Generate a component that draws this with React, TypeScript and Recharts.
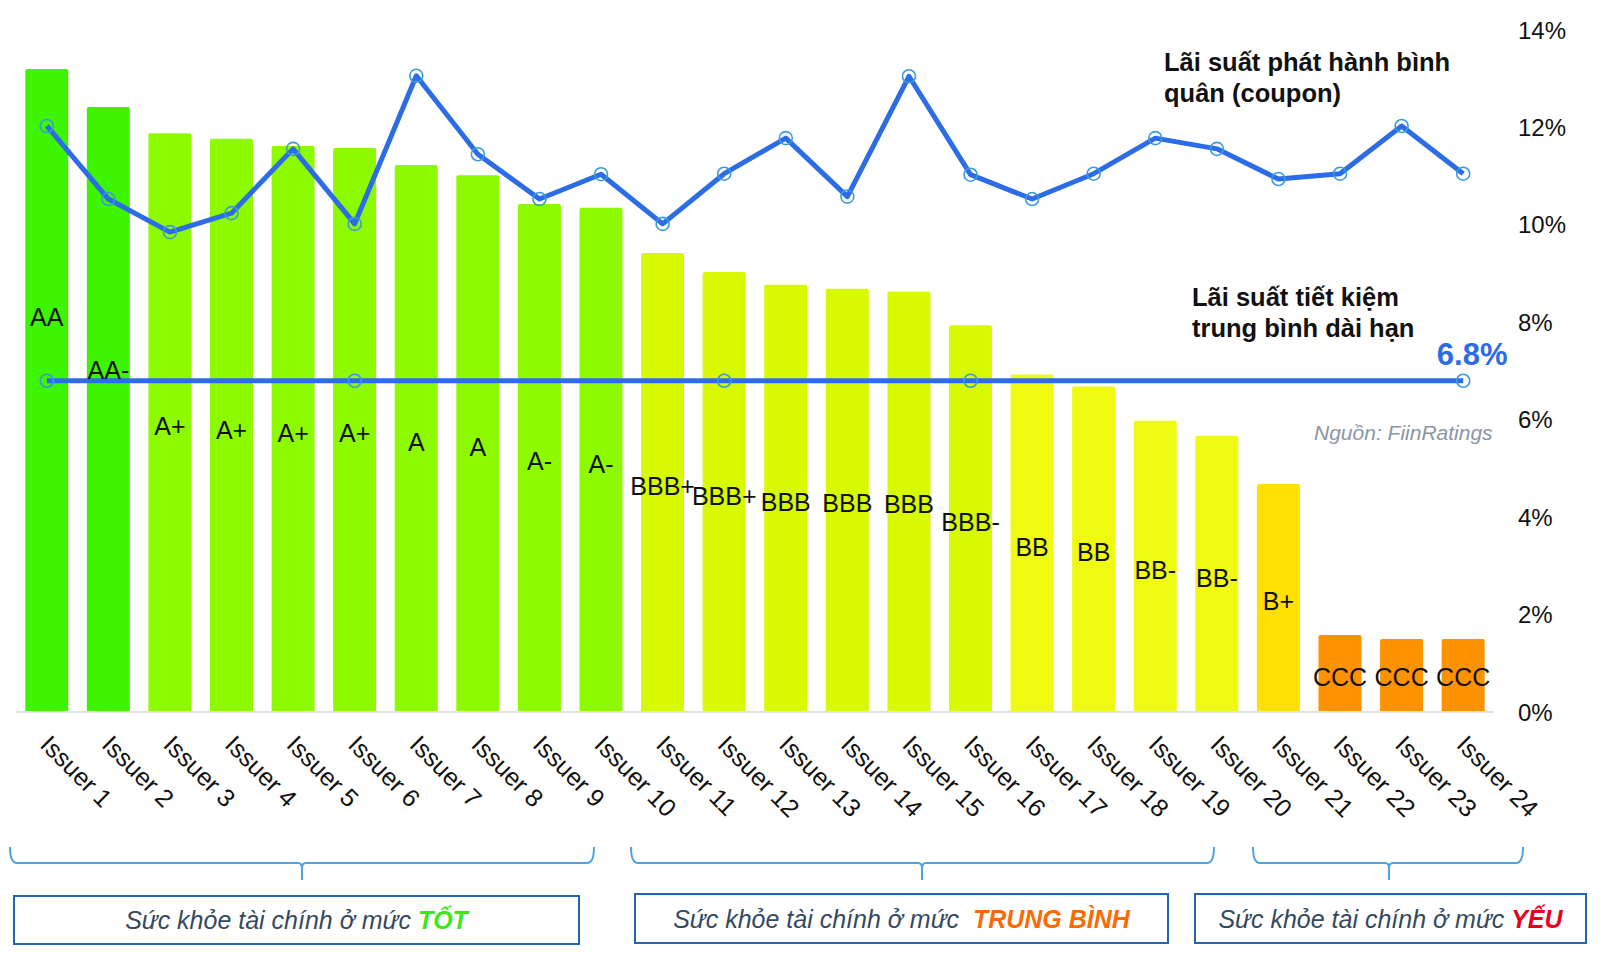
import React from 'react';
import { ComposedChart, Bar, Line, XAxis, YAxis, Cell, LabelList } from 'recharts';

const issuers = ['Issuer 1', 'Issuer 2', 'Issuer 3', 'Issuer 4', 'Issuer 5', 'Issuer 6', 'Issuer 7', 'Issuer 8', 'Issuer 9', 'Issuer 10', 'Issuer 11', 'Issuer 12', 'Issuer 13', 'Issuer 14', 'Issuer 15', 'Issuer 16', 'Issuer 17', 'Issuer 18', 'Issuer 19', 'Issuer 20', 'Issuer 21', 'Issuer 22', 'Issuer 23', 'Issuer 24'];
const ratings = ['AA', 'AA-', 'A+', 'A+', 'A+', 'A+', 'A', 'A', 'A-', 'A-', 'BBB+', 'BBB+', 'BBB', 'BBB', 'BBB', 'BBB-', 'BB', 'BB', 'BB-', 'BB-', 'B+', 'CCC', 'CCC', 'CCC'];
const barValues = [13.2, 12.42, 11.88, 11.77, 11.62, 11.58, 11.23, 11.02, 10.43, 10.35, 9.42, 9.03, 8.77, 8.69, 8.63, 7.94, 6.93, 6.68, 5.98, 5.67, 4.68, 1.58, 1.5, 1.5];
const coupon = [12.03, 10.53, 9.85, 10.24, 11.56, 10.02, 13.06, 11.45, 10.53, 11.04, 10.02, 11.05, 11.78, 10.58, 13.05, 11.03, 10.53, 11.05, 11.78, 11.56, 10.94, 11.05, 12.03, 11.05];
const SAVINGS_RATE = 6.8;
const ratingLabelAt = [8.11, 7.02, 5.87, 5.79, 5.73, 5.73, 5.54, 5.44, 5.15, 5.09, 4.64, 4.44, 4.31, 4.29, 4.27, 3.9, 3.39, 3.29, 2.92, 2.75, 2.28, 0.72, 0.72, 0.72];
const yTicks = [0, 2, 4, 6, 8, 10, 12, 14];
const savingsMarkerIdx = [0, 5, 11, 15, 23];

const ratingColor: Record<string, string> = {
  'AA': '#3DF500', 'AA-': '#3DF500',
  'A+': '#8EFA00', 'A': '#8EFA00', 'A-': '#8EFA00',
  'BBB+': '#D8FA00', 'BBB': '#D8FA00', 'BBB-': '#D8FA00',
  'BB': '#EFFA10', 'BB-': '#EFFA10',
  'B+': '#FFE000',
  'CCC': '#FF9200',
};

const data = issuers.map((name, i) => ({
  name,
  rating: ratings[i],
  bar: barValues[i],
  coupon: coupon[i],
  savings: SAVINGS_RATE,
  labelAt: ratingLabelAt[i],
}));

const FONT = '"Liberation Sans", Arial, Helvetica, sans-serif';
const LINE_BLUE = '#2C6CE6';
const DOT_BLUE = '#3A9BDC';

const XTick = (props: any) => {
  const { x, y, payload } = props;
  const tx = x - 8;
  const ty = y + 34;
  return (
    <text x={tx} y={ty} transform={`rotate(45 ${tx} ${ty})`} fontSize={25} fill="#111" fontFamily={FONT}>
      {payload.value}
    </text>
  );
};

const CouponDot = (props: any) => {
  const { cx, cy, index } = props;
  return <circle key={`c-${index}`} cx={cx} cy={cy} r={6.5} fill="none" stroke={DOT_BLUE} strokeWidth={1.6} />;
};

const SavingsDot = (props: any) => {
  const { cx, cy, index } = props;
  if (!savingsMarkerIdx.includes(index)) return <g key={`s-${index}`} />;
  return <circle key={`s-${index}`} cx={cx} cy={cy} r={6.5} fill="none" stroke={DOT_BLUE} strokeWidth={1.6} />;
};

const SavingsLabel = (props: any) => {
  const { x, y, value, index } = props;
  if (index !== issuers.length - 1) return null;
  return (
    <text x={x + 9} y={y - 16} textAnchor="middle" fontSize={31} fontWeight="bold" fill={LINE_BLUE} fontFamily={FONT}>
      {`${value}%`}
    </text>
  );
};

const RatingLabel = (props: any) => {
  const { x, y, value } = props;
  return (
    <text x={x} y={y} dy="0.36em" textAnchor="middle" fontSize={25} fill="#111" fontFamily={FONT}>
      {value}
    </text>
  );
};

const brackets = [
  { x1: 10, x2: 594, cx: 302 },
  { x1: 631, x2: 1214, cx: 922 },
  { x1: 1253, x2: 1523, cx: 1389 },
];

const boxes = [
  { x: 14, y: 896, w: 565, h: 48, prefix: 'Sức khỏe tài chính ở mức ', word: 'TỐT', color: '#3EE61A' },
  { x: 635, y: 894, w: 533, h: 49, prefix: 'Sức khỏe tài chính ở mức  ', word: 'TRUNG BÌNH', color: '#FF6A00' },
  { x: 1195, y: 894, w: 391, h: 49, prefix: 'Sức khỏe tài chính ở mức ', word: 'YẾU', color: '#E8001C' },
];

const bracketPath = (b: { x1: number; x2: number; cx: number }) => {
  const yTop = 847;
  const yH = 863;
  const yBot = 880;
  return `M ${b.x1} ${yTop} Q ${b.x1} ${yH} ${b.x1 + 7} ${yH} L ${b.cx - 4} ${yH} Q ${b.cx} ${yH} ${b.cx} ${yH + 5} L ${b.cx} ${yBot} M ${b.cx} ${yH + 5} Q ${b.cx} ${yH} ${b.cx + 4} ${yH} L ${b.x2 - 7} ${yH} Q ${b.x2} ${yH} ${b.x2} ${yTop}`;
};

export default function App() {
  return (
    <div style={{ position: 'absolute', left: 0, top: 0, width: 1600, height: 962, background: '#fff', fontFamily: FONT }}>
      <ComposedChart
        width={1600}
        height={962}
        data={data}
        margin={{ top: 30, right: 0, bottom: 0, left: 16 }}
        barCategoryGap="15%"
      >
        <XAxis
          dataKey="name"
          height={250}
          interval={0}
          tickLine={false}
          tickSize={0}
          tickMargin={0}
          axisLine={{ stroke: '#DCE2E8', strokeWidth: 2 }}
          tick={<XTick />}
        />
        <YAxis
          orientation="right"
          width={106}
          domain={[0, 14]}
          ticks={yTicks}
          axisLine={false}
          tickLine={false}
          tickSize={0}
          tickMargin={24}
          tickFormatter={(v: number) => `${v}%`}
          tick={{ fontSize: 24, fill: '#111', fontFamily: FONT, textAnchor: 'start' }}
        />
        <Bar dataKey="bar" isAnimationActive={false} radius={[2, 2, 0, 0]}>
          {data.map((d, i) => (
            <Cell key={`cell-${i}`} fill={ratingColor[d.rating]} />
          ))}
        </Bar>
        <Line
          dataKey="savings"
          type="linear"
          stroke={LINE_BLUE}
          strokeWidth={5}
          dot={SavingsDot}
          activeDot={false}
          isAnimationActive={false}
          label={SavingsLabel}
        />
        <Line
          dataKey="coupon"
          type="linear"
          stroke={LINE_BLUE}
          strokeWidth={5}
          strokeLinejoin="round"
          dot={CouponDot}
          activeDot={false}
          isAnimationActive={false}
        />
        <Line
          dataKey="labelAt"
          stroke="none"
          strokeWidth={0}
          dot={false}
          activeDot={false}
          isAnimationActive={false}
        >
          <LabelList dataKey="rating" content={RatingLabel} />
        </Line>
      </ComposedChart>
      <svg width={1600} height={962} style={{ position: 'absolute', left: 0, top: 0, pointerEvents: 'none' }}>
        <text x={1164} y={71} fontSize={25.5} fontWeight="bold" fill="#111" fontFamily={FONT}>Lãi suất phát hành bình</text>
        <text x={1164} y={102} fontSize={25.5} fontWeight="bold" fill="#111" fontFamily={FONT}>quân (coupon)</text>
        <text x={1192} y={306} fontSize={25.5} fontWeight="bold" fill="#111" fontFamily={FONT}>Lãi suất tiết kiệm</text>
        <text x={1192} y={337} fontSize={25.5} fontWeight="bold" fill="#111" fontFamily={FONT}>trung bình dài hạn</text>
        <text x={1314} y={440} fontSize={21} fontStyle="italic" fill="#8A96A3" fontFamily={FONT}>Nguồn: FiinRatings</text>
        {brackets.map((b, i) => (
          <path key={`br-${i}`} d={bracketPath(b)} fill="none" stroke="#4BA3E3" strokeWidth={2} />
        ))}
        {boxes.map((b, i) => (
          <g key={`bx-${i}`}>
            <rect x={b.x} y={b.y} width={b.w} height={b.h} fill="#fff" stroke="#2266B2" strokeWidth={2} />
            <text x={b.x + b.w / 2} y={b.y + b.h / 2} dy="0.36em" textAnchor="middle" fontSize={25} fontStyle="italic" fill="#34495E" fontFamily={FONT} xmlSpace="preserve">
              <tspan>{b.prefix}</tspan>
              <tspan fontWeight="bold" fill={b.color}>{b.word}</tspan>
            </text>
          </g>
        ))}
      </svg>
    </div>
  );
}
